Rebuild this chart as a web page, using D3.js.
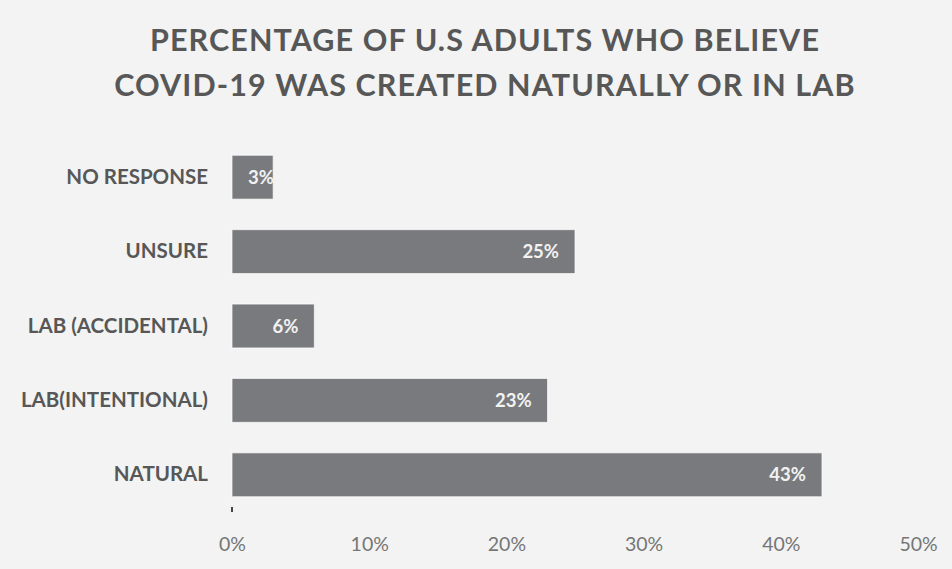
<!DOCTYPE html>
<html>
<head>
<meta charset="utf-8">
<script src="https://cdn.jsdelivr.net/npm/d3@7"></script>
<style>
  html, body { margin: 0; padding: 0; background: #f2f3f2; }
  svg { display: block; }
</style>
</head>
<body>
<svg id="chart" width="952" height="569"></svg>
<script>
// Survey answers, top to bottom
const categories = ["NO RESPONSE", "UNSURE", "LAB (ACCIDENTAL)", "LAB(INTENTIONAL)", "NATURAL"];
const percentages = [3, 25, 6, 23, 43];
const tickValues = [0, 10, 20, 30, 40, 50];
const titleLines = ["PERCENTAGE OF U.S ADULTS WHO BELIEVE", "COVID-19 WAS CREATED NATURALLY OR IN LAB"];

const W = 952, H = 569;
const margin = { left: 232, right: 34, top: 140, bottom: 57 };
const fontFamily = "Lato, 'Open Sans', 'DejaVu Sans', sans-serif";
const barColor = "#797a7d";
const textColor = "#575757";

const svg = d3.select("#chart");
svg.append("rect").attr("width", W).attr("height", H).attr("fill", "#f2f3f2");

const x = d3.scaleLinear().domain([0, 50]).range([margin.left, W - margin.right]);
const y = d3.scaleBand().domain(categories).range([margin.top, H - margin.bottom])
  .paddingInner(0.41).paddingOuter(0.205);

// Title
svg.append("g").selectAll("text").data(titleLines).join("text")
  .attr("x", 485)
  .attr("y", (d, i) => 51 + i * 45)
  .attr("text-anchor", "middle")
  .attr("font-family", fontFamily)
  .attr("font-weight", 700)
  .attr("font-size", 30.5)
  .attr("letter-spacing", 1.1)
  .attr("fill", textColor)
  .text(d => d);

const data = categories.map((c, i) => ({ category: c, value: percentages[i] }));

// Bars, each with a clip region so its label never spills outside
const defs = svg.append("defs");
defs.selectAll("clipPath").data(data).join("clipPath")
  .attr("id", (d, i) => "bar-clip-" + i)
  .append("rect")
  .attr("x", x(0))
  .attr("y", d => y(d.category))
  .attr("width", d => x(d.value) - x(0))
  .attr("height", y.bandwidth());

svg.append("g").selectAll("rect").data(data).join("rect")
  .attr("x", x(0))
  .attr("y", d => y(d.category))
  .attr("width", d => x(d.value) - x(0))
  .attr("height", y.bandwidth())
  .attr("fill", barColor)
  .attr("stroke", "#ffffff")
  .attr("stroke-opacity", 0.7)
  .attr("stroke-width", 1);

// Value labels inside the bar ends
const labels = svg.append("g").selectAll("text").data(data).join("text")
  .attr("y", d => y(d.category) + y.bandwidth() / 2)
  .attr("dy", "0.36em")
  .attr("font-family", fontFamily)
  .attr("font-weight", 700)
  .attr("font-size", 18.5)
  .attr("fill", "#f2f2f2")
  .attr("clip-path", (d, i) => `url(#bar-clip-${i})`)
  .text(d => d.value + "%");

labels.each(function (d) {
  const w = this.getComputedTextLength();
  const end = x(d.value) - 16;
  const start = Math.max(end - w, x(0) + 16);
  d3.select(this).attr("x", start);
});

// Category axis (labels only)
const yAxis = svg.append("g")
  .attr("transform", `translate(${x(0)},0)`)
  .call(d3.axisLeft(y).tickSize(0).tickPadding(24));
yAxis.select(".domain").remove();
yAxis.selectAll("text")
  .attr("font-family", fontFamily)
  .attr("font-weight", 700)
  .attr("font-size", 20.5)
  .attr("fill", textColor);

// Value axis (labels only) and the small mark at zero
const xAxis = svg.append("g")
  .attr("transform", `translate(0,${H - margin.bottom})`)
  .call(d3.axisBottom(x).tickValues(tickValues).tickFormat(d => d + "%").tickSize(0).tickPadding(0));
xAxis.select(".domain").remove();
xAxis.selectAll("text")
  .attr("y", 39)
  .attr("dy", 0)
  .attr("font-family", fontFamily)
  .attr("font-size", 19.5)
  .attr("fill", "#767676");

svg.append("line")
  .attr("x1", x(0)).attr("x2", x(0))
  .attr("y1", H - margin.bottom - 5).attr("y2", H - margin.bottom)
  .attr("stroke", "#444").attr("stroke-width", 2);
</script>
</body>
</html>
